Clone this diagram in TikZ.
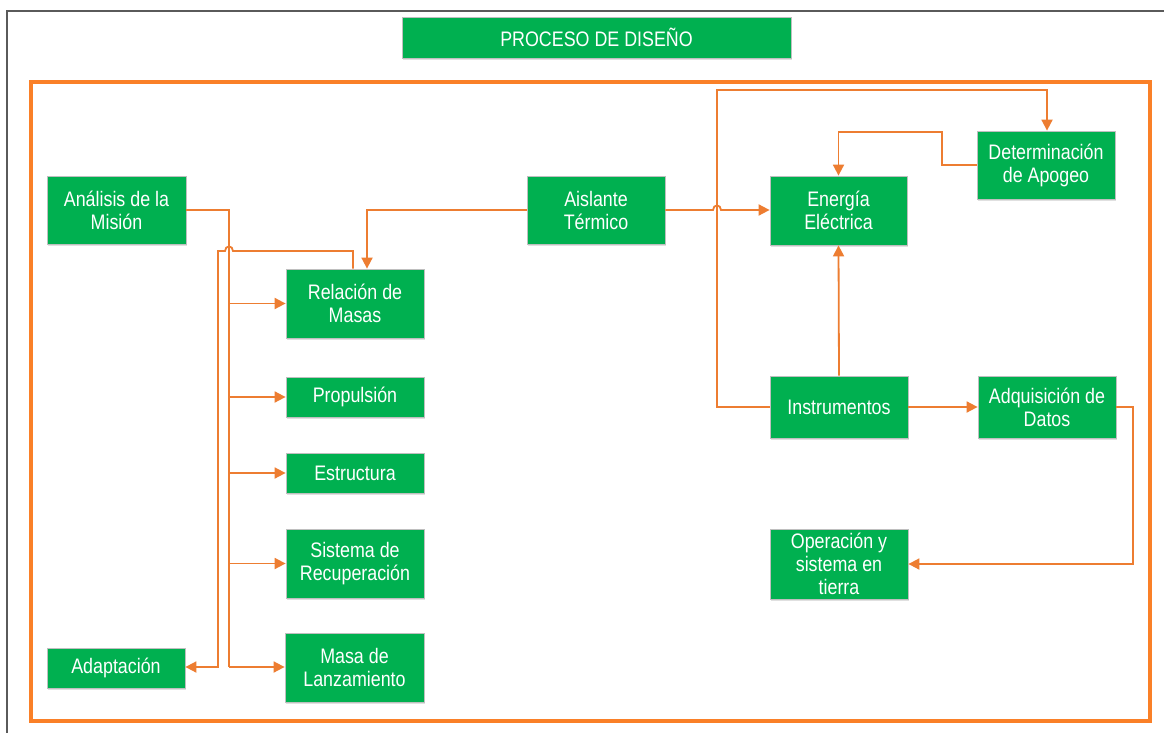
\documentclass[tikz,border=0pt]{standalone}
\usepackage{fontspec}
\newfontfamily\boxfont[FakeStretch=0.85]{Liberation Sans}
\usetikzlibrary{arrows.meta,shadows}
\definecolor{boxgreen}{RGB}{0,176,80}
\definecolor{lineor}{RGB}{237,125,49}
\definecolor{frameor}{RGB}{250,128,40}
\definecolor{framegray}{RGB}{90,90,90}
\tikzset{
  blk/.style={draw=black!25, line width=0.8pt, fill=boxgreen, text=white,
    font=\boxfont\fontsize{21}{23}\selectfont, align=center, inner sep=0pt,
    drop shadow={shadow xshift=1pt, shadow yshift=-2pt, fill=black, opacity=0.12}},
  conn/.style={draw=lineor, line width=1.8pt},
  arr/.style={conn, -{Triangle[length=11pt,width=11pt]}},
}
\begin{document}
\begin{tikzpicture}[x=1pt,y=-1pt]
\useasboundingbox (0,0) rectangle (1164,733);
\fill[white] (0,0) rectangle (1164,733);
% outer gray frame (only left and top visible)
\draw[framegray, line width=1.5pt] (7,745) -- (7,11) -- (1175,11);
% orange frame
\draw[frameor, line width=3.5pt] (31,82) rectangle (1150,721);

% nodes
\node[blk, minimum width=389pt, minimum height=41pt] (title) at (596.5,37.5) {PROCESO DE DISEÑO};
\node[blk, minimum width=139pt, minimum height=68pt] (ana) at (116.5,210) {Análisis de la\\Misión};
\node[blk, minimum width=138pt, minimum height=69pt] (rel) at (355,303.5) {Relación de\\Masas};
\node[blk, minimum width=138pt, minimum height=40pt] (pro) at (355,397) {Propulsión};
\node[blk, minimum width=138pt, minimum height=40pt] (est) at (355,473) {Estructura};
\node[blk, minimum width=138pt, minimum height=69pt] (sis) at (355,563.5) {Sistema de\\Recuperación};
\node[blk, minimum width=139pt, minimum height=69pt] (masa) at (354.5,667.5) {Masa de\\Lanzamiento};
\node[blk, minimum width=138pt, minimum height=40pt] (ada) at (116,668) {Adaptación};
\node[blk, minimum width=138pt, minimum height=68pt] (ais) at (596,210) {Aislante\\Térmico};
\node[blk, minimum width=137pt, minimum height=69pt] (ene) at (838.5,210.5) {Energía\\Eléctrica};
\node[blk, minimum width=138pt, minimum height=68pt] (det) at (1046,165) {Determinación\\de Apogeo};
\node[blk, minimum width=138pt, minimum height=62pt] (ins) at (839,407) {Instrumentos};
\node[blk, minimum width=138pt, minimum height=62pt] (adq) at (1047,407) {Adquisición de\\Datos};
\node[blk, minimum width=138pt, minimum height=70pt] (ope) at (839,564) {Operación y\\sistema en\\tierra};

% helper coordinates
\coordinate (bus) at (229,210);
\coordinate (busb) at (229,667);
\coordinate (ret) at (218,251);
\coordinate (up) at (717,90);
\coordinate (dk) at (942,132);
\coordinate (ak) at (1133,407);

% Analisis bus
\draw[conn] (ana.east) -- (bus) -- (busb);
\draw[arr] (busb) -- (masa.west |- busb);
\draw[arr] (rel.west -| bus) -- (rel.west);
\draw[arr] (pro.west -| bus) -- (pro.west);
\draw[arr] (est.west -| bus) -- (est.west);
\draw[arr] (sis.west -| bus) -- (sis.west);

% Relacion -> Adaptacion (with jump over bus)
\draw[arr] ([xshift=-2pt]rel.north) -- ([xshift=-2pt]rel.north |- ret) -- ([xshift=4pt]ret -| bus)
  .. controls ([xshift=4pt,yshift=6pt]ret -| bus) and ([xshift=-4pt,yshift=6pt]ret -| bus) .. ([xshift=-4pt]ret -| bus)
  -- (ret) -- (ret |- busb) -- (ada.east |- busb);

% Aislante -> Relacion
\draw[arr] (ais.west) -| ([xshift=12pt]rel.north);

% Aislante -> Energia (with jump)
\draw[arr] (ais.east) -- ([xshift=-4pt]up |- ais.east)
  .. controls ([xshift=-4pt,yshift=6pt]up |- ais.east) and ([xshift=4pt,yshift=6pt]up |- ais.east) .. ([xshift=4pt]up |- ais.east)
  -- (ene.west |- ais.east);

% Instrumentos -> Determinacion
\draw[arr] (ins.west) -| (up) -| ([xshift=1pt]det.north);

% Determinacion -> Energia
\draw[arr] (det.west) -| (dk) -| (ene.north);

% Instrumentos -> Energia
\draw[arr] (ins.north) -- (ene.south);

% Instrumentos -> Adquisicion
\draw[arr] (ins.east) -- (adq.west);

% Adquisicion -> Operacion
\draw[arr] (adq.east) -- (ak) |- (ope.east);
\end{tikzpicture}
\end{document}
